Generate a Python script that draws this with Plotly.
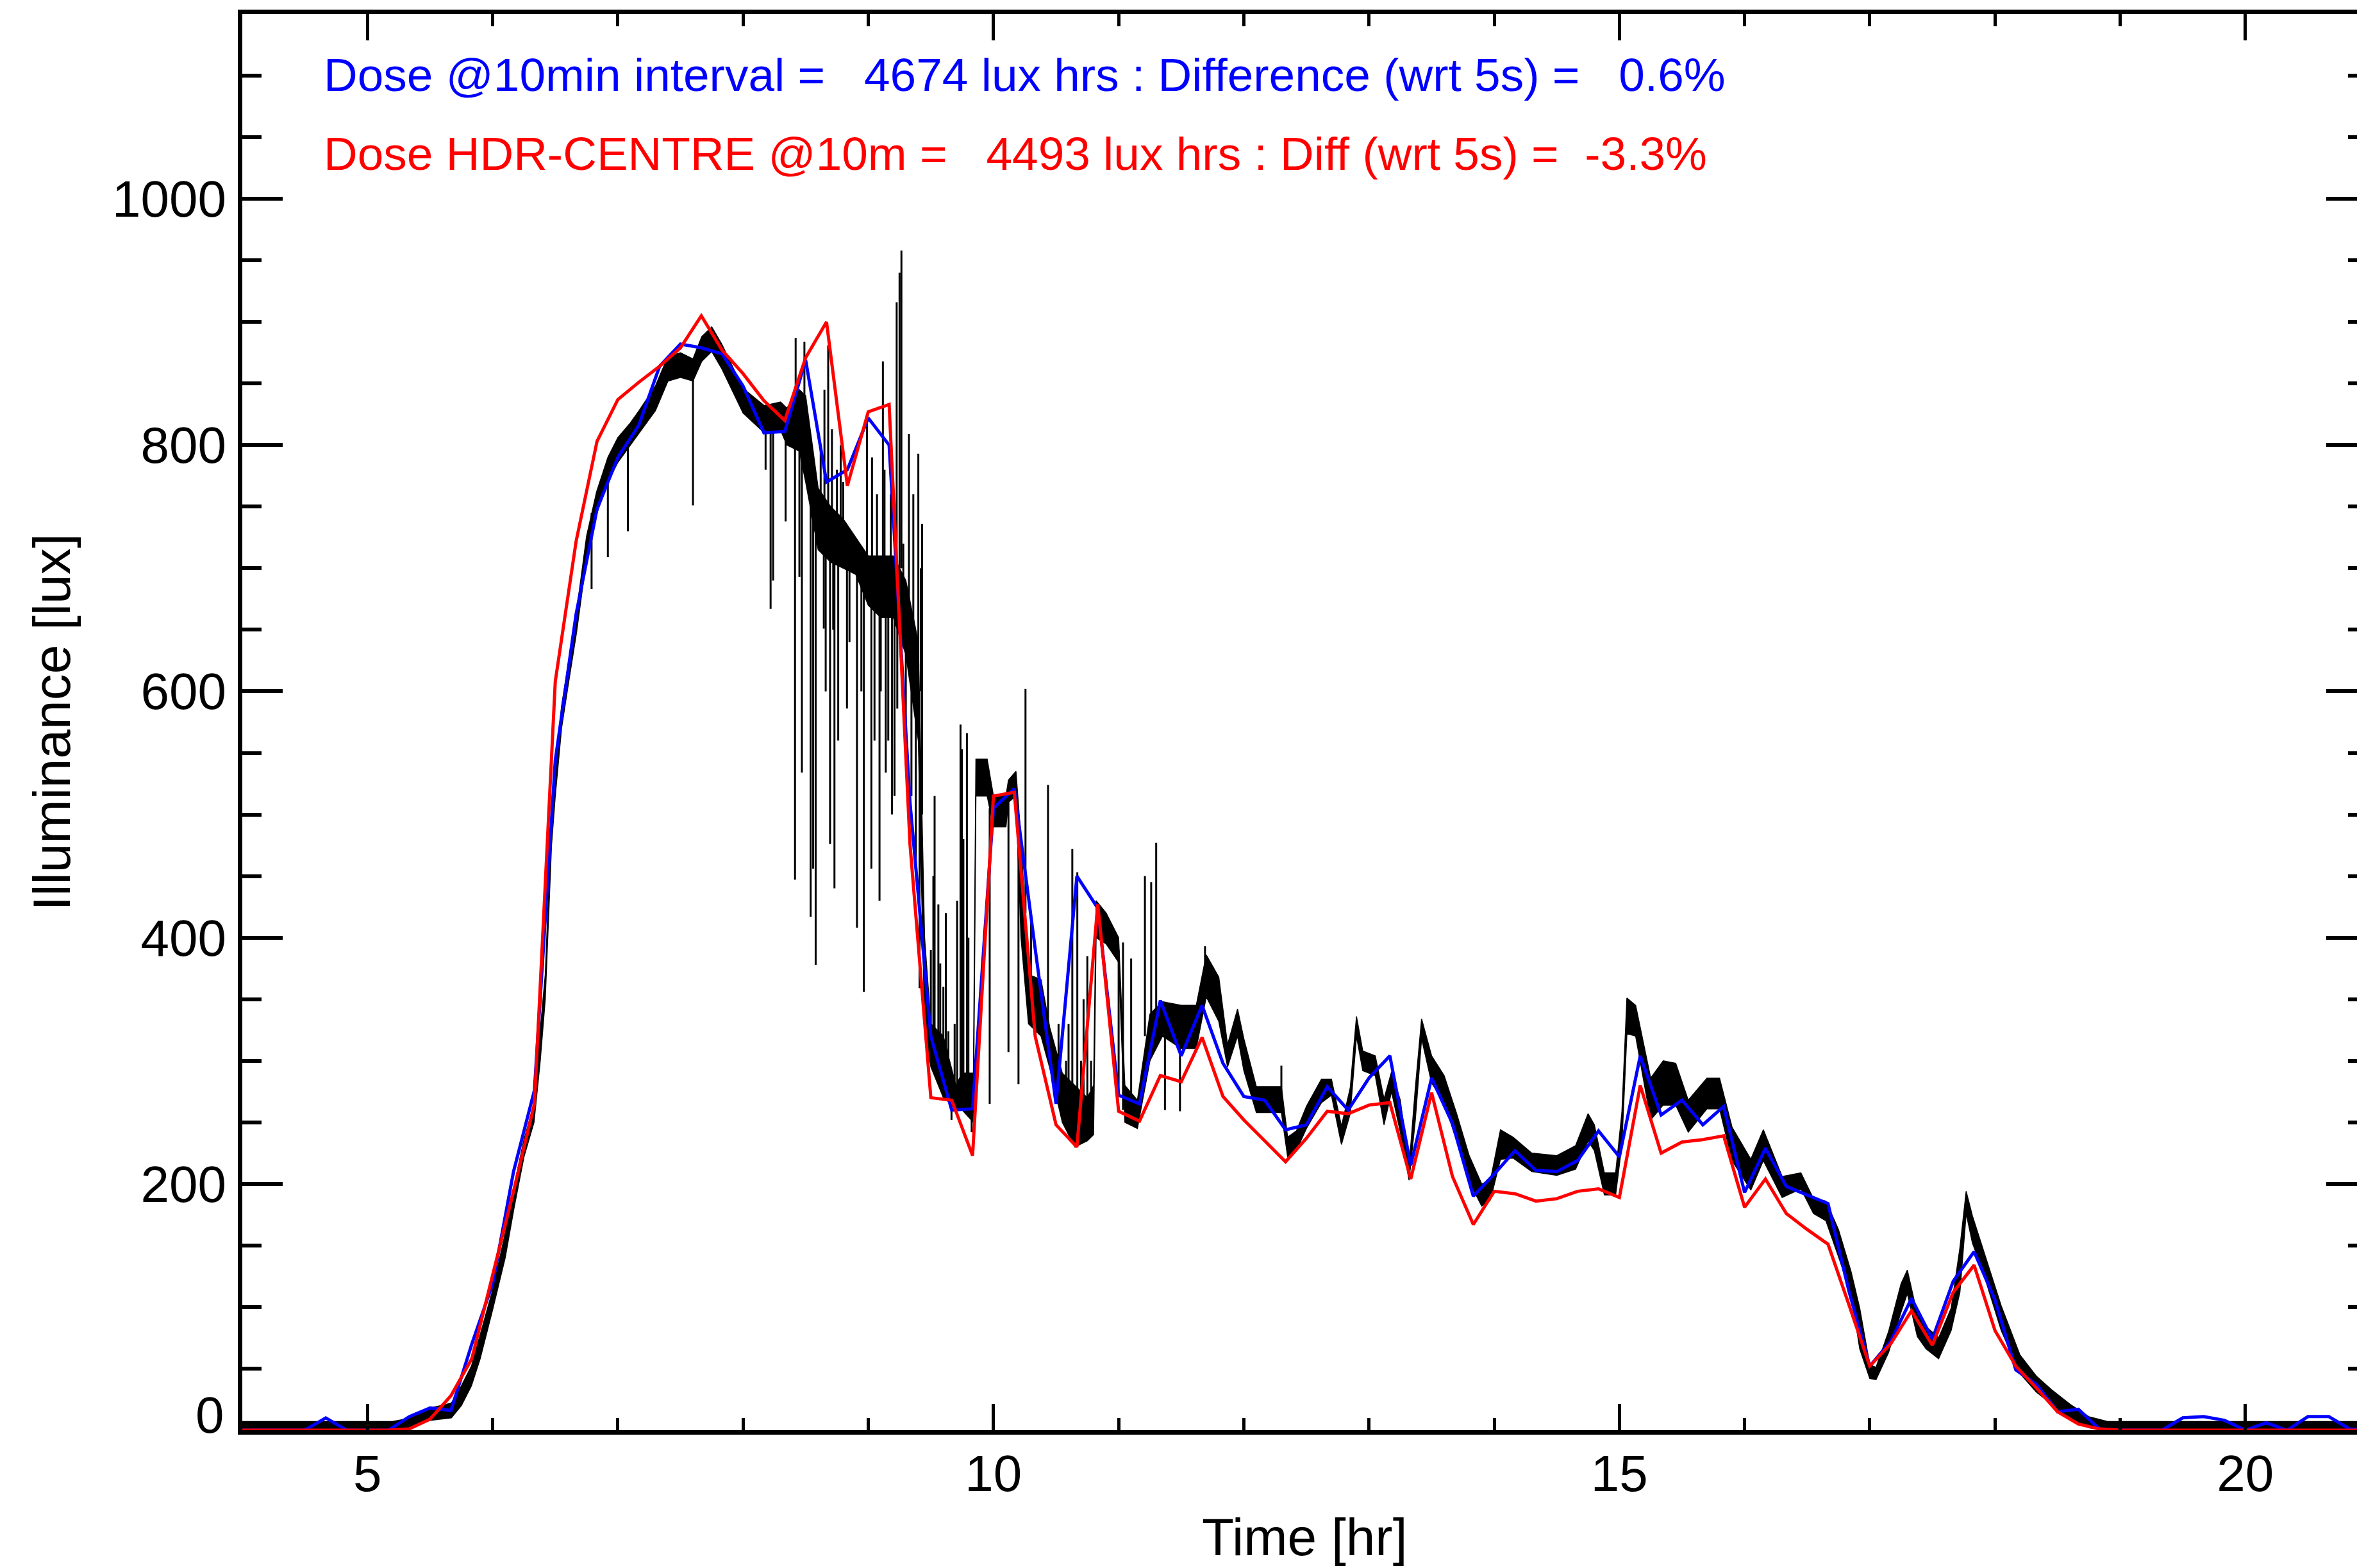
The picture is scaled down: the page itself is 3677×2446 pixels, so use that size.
import numpy as np
import plotly.graph_objects as go

# ---------------- data ----------------
# 10-minute interval samples, k/6 hr from 4.0 to 21.0
t10 = 4.0 + np.arange(103) / 6.0

blue_10min = [0, 0, 0, 0, 10, 0, 0, 0, 11, 18,
              16, 70, 119, 210, 276, 544, 663, 748, 790, 816,
              864, 882, 879, 874, 848, 810, 811, 869, 770, 780,
              822, 800, 510, 320, 260, 261, 505, 521, 391, 265,
              450, 424, 272, 265, 349, 304, 345, 298, 271, 268,
              244, 248, 279, 260, 286, 304, 215, 286, 249, 190,
              208, 227, 211, 210, 219, 243, 222, 304, 256, 268,
              248, 263, 193, 229, 198, 191, 184, 113, 52, 72,
              107, 74, 121, 145, 106, 49, 37, 15, 17, 1,
              0, 0, 0, 10, 11, 8, 0, 6, 0, 11,
              11, 1, 0]

red_hdr_10m = [0, 0, 0, 0, 0, 0, 0, 0, 1, 9,
               28, 58, 126, 194, 265, 608, 722, 803, 837, 851,
               864, 879, 905, 877, 858, 836, 820, 871, 900, 767,
               827, 833, 476, 270, 268, 223, 515, 518, 320, 248,
               230, 427, 259, 251, 288, 283, 319, 271, 252, 235,
               218, 237, 259, 257, 264, 266, 204, 274, 206, 167,
               194, 192, 186, 188, 194, 196, 189, 280, 225, 234,
               236, 239, 181, 204, 176, 163, 151, 102, 52, 70,
               97, 69, 112, 134, 81, 52, 34, 15, 5, 1,
               0, 0, 0, 0, 0, 0, 0, 0, 0, 0,
               0, 0, 0]

# 5-second record: envelope of the noisy band
band_t = [4.0, 5.2, 5.3, 5.5, 5.67, 5.75, 5.83, 5.9, 6.0, 6.1,
          6.17, 6.25, 6.33, 6.38, 6.42, 6.45, 6.47, 6.5, 6.55, 6.6,
          6.67, 6.75, 6.83, 6.92, 7.0, 7.1, 7.17, 7.3, 7.4, 7.5,
          7.6, 7.67, 7.75, 7.83, 8.0, 8.17, 8.3, 8.35, 8.45, 8.5,
          8.6, 8.7, 8.8, 8.9, 9.0, 9.1, 9.2, 9.3, 9.4, 9.45,
          9.5, 9.6, 9.7, 9.75, 9.84, 9.86, 9.95, 10.0, 10.1, 10.12,
          10.18, 10.22, 10.28, 10.38, 10.45, 10.55, 10.65, 10.75, 10.8, 10.82,
          10.9, 11.0, 11.05, 11.15, 11.25, 11.35, 11.5, 11.62, 11.7, 11.8,
          11.87, 11.95, 12.0, 12.1, 12.3, 12.35, 12.42, 12.5, 12.62, 12.7,
          12.78, 12.85, 12.9, 12.95, 13.05, 13.12, 13.18, 13.25, 13.32, 13.37,
          13.42, 13.5, 13.6, 13.7, 13.8, 13.9, 13.97, 14.05, 14.15, 14.3,
          14.5, 14.65, 14.75, 14.8, 14.88, 14.97, 15.02, 15.06, 15.13, 15.25,
          15.35, 15.45, 15.55, 15.7, 15.8, 15.9, 16.05, 16.15, 16.3, 16.45,
          16.55, 16.65, 16.75, 16.85, 16.92, 17.0, 17.05, 17.15, 17.25, 17.3,
          17.38, 17.45, 17.55, 17.65, 17.72, 17.77, 17.82, 17.9, 18.05, 18.2,
          18.33, 18.45, 18.6, 18.75, 18.9, 21.0]

band_lo = [0, 0, 1, 8, 10, 20, 36, 58, 98, 140,
           180, 222, 250, 300, 350, 420, 475, 515, 570, 603,
           648, 708, 744, 770, 786, 800, 810, 828, 852, 855,
           852, 868, 876, 862, 826, 810, 812, 800, 795, 770,
           715, 705, 700, 695, 670, 660, 660, 630, 560, 330,
           295, 270, 262, 260, 250, 515, 515, 490, 490, 510,
           515, 400, 330, 320, 294, 250, 230, 235, 240, 400,
           395, 380, 250, 245, 300, 320, 310, 310, 352, 332,
           295, 320, 292, 258, 258, 222, 227, 245, 266, 272,
           232, 257, 320, 292, 288, 248, 275, 242, 203, 252,
           318, 282, 266, 235, 202, 182, 187, 220, 221, 210,
           207, 212, 235, 227, 191, 191, 232, 322, 320, 252,
           264, 264, 242, 261, 261, 219, 195, 219, 189, 196,
           176, 170, 141, 111, 66, 42, 41, 63, 96, 111,
           76, 66, 58, 81, 112, 176, 152, 130, 81, 46,
           31, 21, 9, 2, 0, 0]

band_hi = [7, 7, 9, 18, 22, 36, 52, 78, 114, 160,
           198, 236, 265, 325, 370, 445, 495, 535, 588, 620,
           665, 726, 762, 790, 806, 818, 828, 848, 872, 875,
           870, 888, 896, 882, 846, 832, 835, 830, 845, 840,
           765, 750, 740, 725, 710, 710, 710, 690, 640, 400,
           330, 320, 280, 290, 290, 545, 545, 515, 515, 528,
           535, 480, 370, 366, 327, 290, 280, 270, 280, 430,
           420, 400, 280, 268, 338, 348, 345, 345, 386, 368,
           313, 342, 318, 279, 279, 238, 243, 263, 285, 285,
           247, 278, 336, 308, 304, 269, 291, 268, 214, 278,
           334, 304, 288, 257, 223, 200, 203, 244, 238, 225,
           223, 231, 257, 248, 209, 209, 258, 351, 345, 286,
           300, 298, 268, 286, 286, 246, 220, 244, 206, 209,
           188, 186, 163, 129, 99, 53, 51, 80, 119, 130,
           94, 84, 75, 99, 148, 194, 174, 149, 101, 61,
           44, 33, 21, 11, 7, 7]

# isolated spikes of the 5-second record: time, band level, spike tip
spike_t = [6.79, 6.92, 7.08, 7.6, 8.18, 8.22, 8.24, 8.34, 8.415, 8.42,
           8.45, 8.47, 8.49, 8.54, 8.56, 8.58, 8.62, 8.645, 8.65, 8.66,
           8.68, 8.695, 8.71, 8.72, 8.73, 8.75, 8.76, 8.78, 8.8, 8.83,
           8.85, 8.91, 8.945, 8.965, 8.99, 9.025, 9.03, 9.05, 9.07, 9.09,
           9.1, 9.117, 9.13, 9.14, 9.16, 9.18, 9.19, 9.21, 9.227, 9.232,
           9.25, 9.265, 9.28, 9.3, 9.325, 9.345, 9.36, 9.38, 9.4, 9.41,
           9.42, 9.43, 9.5, 9.52, 9.53, 9.56, 9.575, 9.6, 9.62, 9.64,
           9.665, 9.69, 9.71, 9.737, 9.748, 9.76, 9.788, 9.8, 9.826, 9.97,
           10.12, 10.2, 10.256, 10.3, 10.436, 10.52, 10.58, 10.6, 10.63, 10.67,
           10.7, 10.72, 10.75, 10.78, 11.0, 11.035, 11.1, 11.21, 11.26, 11.3,
           11.37, 11.49, 11.69, 12.3]
spike_base = [745, 780, 805, 860, 822, 822, 822, 815, 820, 820,
              810, 800, 810, 790, 770, 760, 740, 740, 740, 740,
              740, 740, 730, 730, 720, 720, 720, 720, 710, 720,
              710, 710, 700, 700, 700, 690, 690, 690, 680, 680,
              680, 700, 690, 680, 670, 670, 660, 660, 700, 680,
              700, 700, 660, 640, 650, 650, 640, 620, 620, 600,
              600, 500, 310, 300, 300, 300, 290, 290, 285, 290,
              280, 275, 270, 270, 270, 270, 270, 270, 280, 505,
              510, 500, 420, 350, 310, 270, 255, 250, 260, 250,
              245, 240, 255, 245, 390, 260, 255, 320, 320, 330,
              330, 330, 370, 270]
spike_tip = [683, 709, 730, 751, 780, 667, 690, 738, 447, 887,
             693, 534, 884, 417, 456, 378, 800, 651, 845, 600,
             881, 476, 813, 650, 440, 780, 560, 800, 770, 586,
             640, 408, 600, 356, 825, 456, 790, 560, 760, 430,
             600, 868, 780, 534, 560, 760, 500, 515, 916, 586,
             940, 958, 720, 540, 809, 515, 760, 450, 793, 359,
             700, 736, 390, 450, 515, 427, 379, 360, 420, 324,
             252, 330, 430, 573, 553, 480, 566, 400, 242, 265,
             307, 281, 602, 420, 524, 330, 300, 330, 472, 453,
             300, 350, 385, 300, 275, 396, 383, 450, 445, 477,
             260, 259, 393, 296]

y_ticks = [200, 400, 600, 800, 1000]
x_ticks = [5, 10, 15, 20]

label_blue = ("Dose @10min interval =\u00a0\u00a0 4674 lux hrs : Difference (wrt 5s) =\u00a0\u00a0 0.6%")
label_red = ("Dose HDR-CENTRE @10m =\u00a0\u00a0 4493 lux hrs : Diff (wrt 5s) =\u00a0 -3.3%")

# ---------------- figure ----------------
FONT = "Liberation Sans, Arial, Helvetica, sans-serif"
W, H = 3677, 2446
L, R, T, B = 378, 0, 22, 215
PX_PER_HR = 195.3
x_max = 4.0 + (W - L - R) / PX_PER_HR
y_max = 1150

fig = go.Figure()

fig.add_trace(go.Scatter(x=band_t, y=band_lo, mode="lines",
                         line=dict(color="black", width=1.5),
                         showlegend=False, hoverinfo="skip"))
fig.add_trace(go.Scatter(x=band_t, y=band_hi, mode="lines", fill="tonexty",
                         fillcolor="black", line=dict(color="black", width=1.5),
                         showlegend=False, hoverinfo="skip"))

sx, sy = [], []
for t, b, p in zip(spike_t, spike_base, spike_tip):
    sx += [t, t, None]
    sy += [b, p, None]
fig.add_trace(go.Scatter(x=sx, y=sy, mode="lines",
                         line=dict(color="black", width=3),
                         showlegend=False, hoverinfo="skip"))

fig.add_trace(go.Scatter(x=t10, y=blue_10min, mode="lines",
                         line=dict(color="#0000ff", width=5),
                         showlegend=False))
fig.add_trace(go.Scatter(x=t10, y=red_hdr_10m, mode="lines",
                         line=dict(color="#ff0000", width=5),
                         showlegend=False))
# right-hand tick axis (its line lies outside the picture)
fig.add_trace(go.Scatter(x=[None], y=[None], yaxis="y2", showlegend=False))

fig.update_layout(
    width=W, height=H,
    margin=dict(l=L, r=R, t=T, b=B, pad=0),
    paper_bgcolor="white", plot_bgcolor="white",
    font=dict(family=FONT, size=80, color="black"),
    showlegend=False,
    xaxis=dict(range=[4.0, x_max], tickvals=x_ticks, ticktext=[str(v) for v in x_ticks],
               ticks="inside", ticklen=41, tickwidth=5, tickcolor="black",
               minor=dict(dtick=1, ticks="inside", ticklen=19, tickwidth=5, tickcolor="black"),
               showline=True, linewidth=7, linecolor="black", mirror="ticks",
               showgrid=False, zeroline=False,
               tickfont=dict(size=80), ticklabelstandoff=-8),
    yaxis=dict(range=[0, y_max], tickvals=[0] + y_ticks, ticktext=[""] + [str(v) for v in y_ticks],
               ticks="inside", ticklen=63, tickwidth=6, tickcolor="black",
               minor=dict(dtick=50, ticks="inside", ticklen=30, tickwidth=6, tickcolor="black"),
               showline=True, linewidth=7, linecolor="black", mirror=False,
               showgrid=False, zeroline=False,
               tickfont=dict(size=80), ticklabelstandoff=2),
    yaxis2=dict(range=[0, y_max], overlaying="y", side="right", anchor="x",
                tickvals=[0] + y_ticks, showticklabels=False,
                ticks="inside", ticklen=48, tickwidth=6, tickcolor="black",
                minor=dict(dtick=50, ticks="inside", ticklen=14, tickwidth=6, tickcolor="black"),
                showline=False, showgrid=False, zeroline=False),
)

# the "0" label sits a little above its tick in the original
fig.add_annotation(x=(352 - L) / (W - L - R), y=12, xref="paper", yref="y", text="0",
                   showarrow=False, xanchor="right", yanchor="middle",
                   font=dict(family=FONT, size=80))
fig.add_annotation(x=4.64, y=1100.8, xref="x", yref="y", text=label_blue,
                   showarrow=False, xanchor="left", yanchor="middle",
                   font=dict(family=FONT, size=73, color="#0000ff"))
fig.add_annotation(x=4.64, y=1036.7, xref="x", yref="y", text=label_red,
                   showarrow=False, xanchor="left", yanchor="middle",
                   font=dict(family=FONT, size=73, color="#ff0000"))
fig.add_annotation(x=(2035 - L) / (W - L - R), y=(2231 - 2397) / (2231 - T),
                   xref="paper", yref="paper", text="Time [hr]", showarrow=False,
                   xanchor="center", yanchor="middle", font=dict(family=FONT, size=82))
fig.add_annotation(x=(80 - L) / (W - L - R), y=0.5, xref="paper", yref="paper",
                   text="Illuminance [lux]", showarrow=False, textangle=-90,
                   xanchor="center", yanchor="middle", font=dict(family=FONT, size=82))

fig.write_html("out.html")
